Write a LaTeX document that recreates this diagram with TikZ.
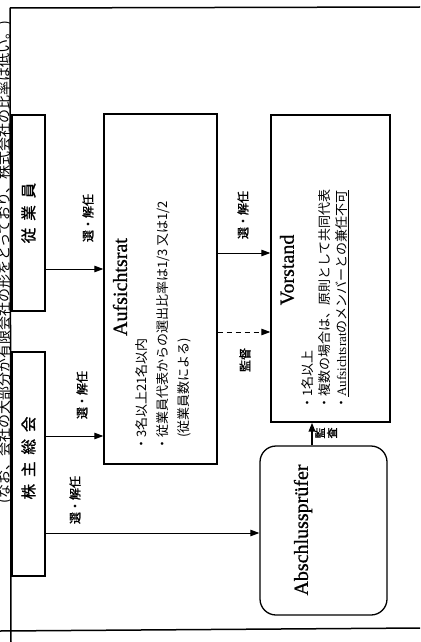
\documentclass[tikz,border=0pt]{standalone}
\usepackage{fontspec}
\setmainfont{Liberation Serif}
\newfontfamily\jp{Noto Sans CJK JP}
\newfontfamily\jpb[FakeBold=1.2]{Noto Sans CJK JP}
\newfontfamily\ttl[FakeBold=0.8]{Liberation Serif}
\usetikzlibrary{arrows.meta}
\begin{document}
\begin{tikzpicture}[x=1pt,y=-1pt,
  box/.style={draw,line width=1.3pt,inner sep=0pt},
  conn/.style={line width=1pt,-{Triangle[length=9pt,width=6.5pt]}},
  lab/.style={rotate=90,font=\jpb\fontsize{12}{13}\selectfont,inner sep=0pt},
  title/.style={rotate=90,font=\ttl\fontsize{20}{20}\selectfont,inner sep=0pt},
  jbox/.style={rotate=90,font=\jpb\fontsize{15.5}{15.5}\selectfont,inner sep=0pt},
  bul/.style={rotate=90,anchor=north west,align=left,inner sep=0pt},
  border/.style={line width=1.5pt}
  ]
\useasboundingbox (0,0) rectangle (420,642);
% frame
\coordinate (tl) at (10,8);
\coordinate (tr) at (420,7);
\coordinate (lb) at (11,642);
\coordinate (bl) at (0,631);
\coordinate (br) at (420,628);
\draw[border] (tl) -- (tr);
\draw[border] (tl) -- (lb);
\draw[border] (bl) -- (br);
% side strip text (cut off as in the reference)
\begin{scope}
  \clip (0,0) rectangle (10.2,642);
  \node[rotate=90,font=\jp\fontsize{14}{14}\selectfont,inner sep=0pt] (note) at (4.5,262)
    {(なお、会社の大部分が有限会社の形をとっており、株式会社の比率は低い。)};
\end{scope}
% boxes
\node[box,minimum width=33pt,minimum height=196pt] (emp) at (28.5,213) {};
\node[box,minimum width=33pt,minimum height=224pt] (sh) at (28.5,464) {};
\node[box,minimum width=113pt,minimum height=350pt] (ar) at (160.5,289) {};
\node[box,minimum width=119pt,minimum height=307pt] (vs) at (330.5,268.5) {};
\node[box,rounded corners=16pt,minimum width=127pt,minimum height=169pt] (ap) at (323.5,530.5) {};
% box texts
\node[jbox] (empt) at (emp) {従\hspace{0.45em}業\hspace{0.45em}員};
\node[jbox] (sht) at (28.5,458) {株\hspace{0.45em}主\hspace{0.45em}総\hspace{0.45em}会};
\node[title] (art) at (120,287) {Aufsichtsrat};
\node[bul,font=\jp\fontsize{13}{21}\selectfont] (arb) at (135,451)
  {・3名以上21名以内\\・従業員代表からの選出比率は1/3 又は1/2\\\hspace*{1em}(従業員数による)};
\node[title] (vst) at (287,270) {Vorstand};
\node[bul,font=\jp\fontsize{13}{17}\selectfont] (vsb) at (301,410)
  {・1名以上\\・複数の場合は、原則として共同代表\\・\underline{{\rmfamily Aufsichtsrat}のメンバーとの兼任不可}};
\node[title] (apt) at (303,530) {Abschlussprüfer};
% connectors
\coordinate (y1) at (0,269);
\coordinate (y2) at (0,436);
\coordinate (y3) at (0,533);
\coordinate (y4) at (0,253);
\coordinate (y5) at (0,332);
\coordinate (x6) at (312,0);
\draw[conn] (emp.east |- y1) -- (ar.west |- y1);
\draw[conn] (sh.east |- y2) -- (ar.west |- y2);
\draw[conn] (sh.east |- y3) -- (ap.west |- y3);
\draw[conn] (ar.east |- y4) -- (vs.west |- y4);
\draw[conn,dashed,dash pattern=on 5pt off 4pt] (ar.east |- y5) -- (vs.west |- y5);
\draw[conn,line width=2pt] (ap.north -| x6) -- (vs.south -| x6);
% labels
\node[lab] (l1) at (88,218) {選・解任};
\node[lab] (l2) at (82,395) {選・解任};
\node[lab] (l3) at (75,500) {選・解任};
\node[lab] (l4) at (243,215) {選・解任};
\node[lab] (l5) at (245,360) {監督};
\node[lab,align=center,font=\jpb\fontsize{11}{12}\selectfont] (l6) at (326,433) {監\\査};
\end{tikzpicture}
\end{document}
